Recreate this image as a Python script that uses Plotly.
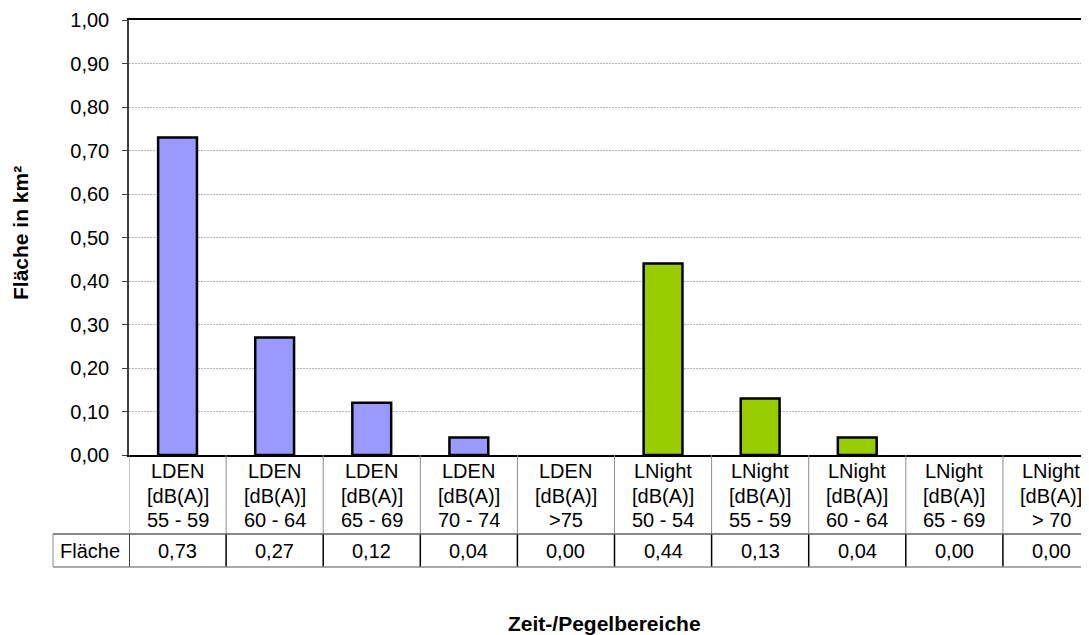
import plotly.graph_objects as go

categories = [
    "LDEN<br>[dB(A)]<br>55 - 59", "LDEN<br>[dB(A)]<br>60 - 64", "LDEN<br>[dB(A)]<br>65 - 69",
    "LDEN<br>[dB(A)]<br>70 - 74", "LDEN<br>[dB(A)]<br>>75",
    "LNight<br>[dB(A)]<br>50 - 54", "LNight<br>[dB(A)]<br>55 - 59", "LNight<br>[dB(A)]<br>60 - 64",
    "LNight<br>[dB(A)]<br>65 - 69", "LNight<br>[dB(A)]<br>> 70",
]
groups = ["LDEN"] * 5 + ["LNight"] * 5
flaeche = [0.73, 0.27, 0.12, 0.04, 0.00, 0.44, 0.13, 0.04, 0.00, 0.00]
y_ticks = [0.0, 0.1, 0.2, 0.3, 0.4, 0.5, 0.6, 0.7, 0.8, 0.9, 1.0]

group_colors = {"LDEN": "#9999FF", "LNight": "#99CC00"}
FONT = "Arial, Liberation Sans, sans-serif"
FS = 20

n = len(categories)
xs = list(range(n))

fig = go.Figure()
fig.add_trace(go.Bar(
    x=xs,
    y=[v if v > 0 else None for v in flaeche],
    marker=dict(color=[group_colors[g] for g in groups],
                line=dict(color="black", width=2.5)),
    width=0.4,
    hoverinfo="skip",
))

# page offset of the figure div (browser body margin)
OFF = 8
H = 435.0   # plot height in px
W = 960.0   # plot width in px
def py(p):   # page pixel y -> paper y
    return (455 - p) / H
def px(p):   # page pixel x -> paper x
    return (p - 129) / W

shapes = []
annotations = []
row1_bot = py(534)
row2_bot = py(567)

for k in range(n + 1):
    xv = k - 0.5
    shapes.append(dict(type="line", xref="x", yref="paper", x0=xv, x1=xv, y0=0, y1=row1_bot,
                       line=dict(color="#8c8c8c", width=1)))
    shapes.append(dict(type="line", xref="x", yref="paper", x0=xv, x1=xv, y0=row1_bot, y1=row2_bot,
                       line=dict(color="black", width=1.5)))
shapes.append(dict(type="line", xref="paper", yref="paper", x0=px(53), x1=1.0, y0=row1_bot, y1=row1_bot,
                   line=dict(color="#606060", width=1.5)))
shapes.append(dict(type="line", xref="paper", yref="paper", x0=px(53), x1=1.0, y0=row2_bot, y1=row2_bot,
                   line=dict(color="#8c8c8c", width=1.5)))
shapes.append(dict(type="line", xref="paper", yref="paper", x0=px(53), x1=px(53), y0=row1_bot, y1=row2_bot,
                   line=dict(color="#8c8c8c", width=1)))

line_y = [471, 496, 520]
for i, (c, v) in enumerate(zip(categories, flaeche)):
    for ly, part in zip(line_y, c.split("<br>")):
        annotations.append(dict(x=i, y=py(ly), xref="x", yref="paper", text=part, showarrow=False,
                                xanchor="center", yanchor="middle",
                                font=dict(family=FONT, size=FS, color="black")))
    annotations.append(dict(x=i, y=py(551), xref="x", yref="paper",
                            text=f"{v:.2f}".replace(".", ","), showarrow=False,
                            xanchor="center", yanchor="middle",
                            font=dict(family=FONT, size=FS, color="black")))

annotations.append(dict(x=px(90), y=py(551), xref="paper", yref="paper", text="Fläche",
                        showarrow=False, xanchor="center", yanchor="middle",
                        font=dict(family=FONT, size=FS, color="black")))
annotations.append(dict(x=px(20), y=py(233), xref="paper", yref="paper", text="<b>Fläche in km²</b>",
                        showarrow=False, textangle=-90, xanchor="center", yanchor="middle",
                        font=dict(family=FONT, size=21, color="black")))
annotations.append(dict(x=px(604), y=py(623), xref="paper", yref="paper", text="<b>Zeit-/Pegelbereiche</b>",
                        showarrow=False, xanchor="center", yanchor="middle",
                        font=dict(family=FONT, size=21, color="black")))

fig.update_layout(
    width=1089 - OFF, height=635 - OFF,
    margin=dict(l=129 - OFF, r=0, t=20 - OFF, b=180, pad=0),
    paper_bgcolor="white", plot_bgcolor="white",
    separators=",.",
    showlegend=False,
    font=dict(family=FONT, size=FS, color="black"),
    shapes=shapes,
    annotations=annotations,
    xaxis=dict(range=[-0.5, n - 0.5 - 11 / 97.1], showticklabels=False, ticks="",
               showgrid=False, zeroline=False, showline=True, linecolor="black", linewidth=1.5,
               mirror=True, fixedrange=True),
    yaxis=dict(range=[0, 1.0], tickvals=y_ticks, tickformat=".2f", ticks="outside", ticklen=5,
               tickcolor="#404040", showline=True, linecolor="#404040", linewidth=1.5,
               showgrid=True, gridcolor="#b4b4b4", griddash="2px,1px", gridwidth=1,
               zeroline=False, ticklabelstandoff=9,
               tickfont=dict(family=FONT, size=FS, color="black"), fixedrange=True),
)

fig.write_html("out.html")
